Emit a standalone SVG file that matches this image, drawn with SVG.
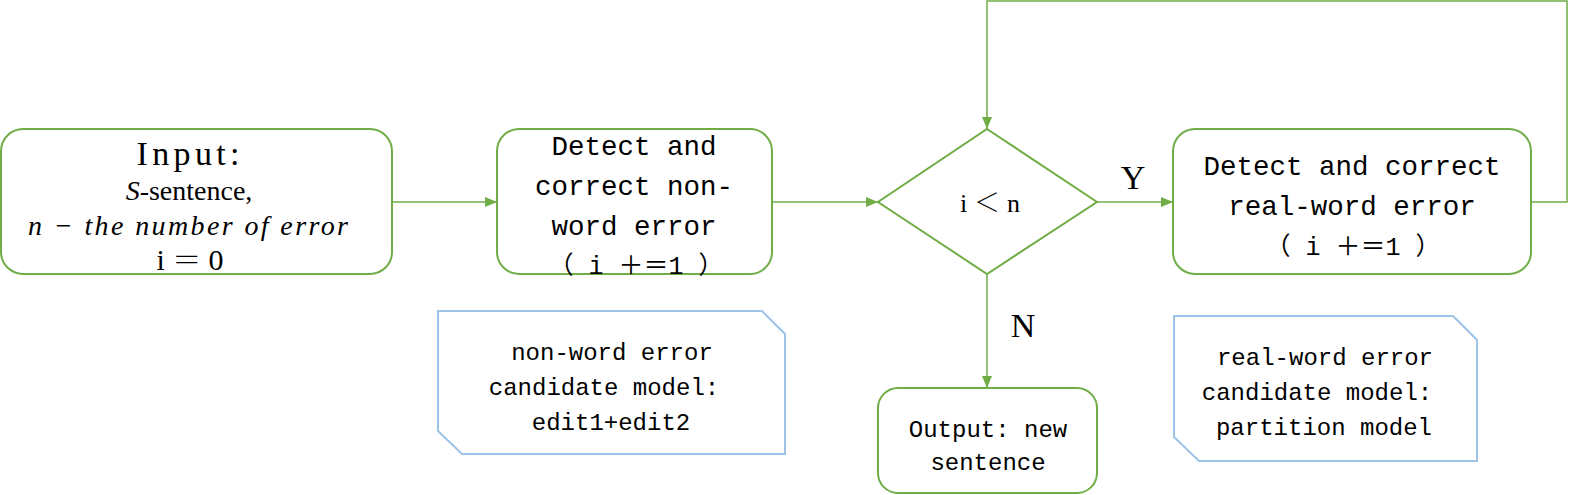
<svg xmlns="http://www.w3.org/2000/svg" width="1572" height="495" viewBox="0 0 1572 495">
<style>
.box{fill:#fff;stroke:#70AD47;stroke-width:2}
.note{fill:#fff;stroke:#9DC3E6;stroke-width:2}
.con{fill:none;stroke:#70AD47;stroke-width:1.5}
.mono{font-family:"Liberation Mono","Noto Sans CJK SC",monospace;fill:#000;text-anchor:middle}
.ser{font-family:"Liberation Serif","Noto Serif CJK SC",serif;fill:#000;text-anchor:middle}
</style>
<defs>
<marker id="arr" viewBox="0 0 12 10" refX="12" refY="5" markerWidth="12" markerHeight="10" markerUnits="userSpaceOnUse" orient="auto">
<path d="M0,0 L12,5 L0,10 Z" fill="#70AD47"/>
</marker>
</defs>
<g id="connectors">
<line class="con" x1="392" y1="202" x2="497" y2="202" marker-end="url(#arr)"/>
<line class="con" x1="772" y1="202" x2="878" y2="202" marker-end="url(#arr)"/>
<line class="con" x1="1097" y1="202" x2="1173" y2="202" marker-end="url(#arr)"/>
<line class="con" x1="987" y1="274" x2="987" y2="388" marker-end="url(#arr)"/>
<polyline class="con" points="1531,202 1567,202 1567,1 987,1 987,129" stroke="#8CC26A" marker-end="url(#arr)"/>
<text class="ser" x="1133" y="189" font-size="34">Y</text>
<text class="ser" x="1023" y="337" font-size="34">N</text>
</g>
<g id="input">
<rect class="box" x="1" y="129" width="391" height="145" rx="22"/>
<text class="ser" x="188" y="165" font-size="34" textLength="103" lengthAdjust="spacing">Input:</text>
<text class="ser" x="189" y="200" font-size="28"><tspan font-style="italic">S</tspan>-sentence,</text>
<text class="ser" x="188" y="235" font-size="28" font-style="italic" textLength="320" lengthAdjust="spacing">n − the number of error</text>
<text class="ser" x="190" y="270" font-size="30" textLength="67" lengthAdjust="spacing">i ＝ 0</text>
</g>
<g id="detect-nonword">
<rect class="box" x="497" y="129" width="275" height="145" rx="22"/>
<text class="mono" x="634" y="155" font-size="27.5">Detect and</text>
<text class="mono" x="634" y="195" font-size="27.5">correct non-</text>
<text class="mono" x="634" y="235" font-size="27.5">word error</text>
<text class="mono" x="636" y="274" font-size="25">（ i ＋＝1 ）</text>
</g>
<g id="decision">
<polygon class="box" points="987,129 1097,202 987,274 878,202"/>
<text class="ser" x="990" y="212" font-size="26" textLength="60" lengthAdjust="spacing">i ＜ n</text>
</g>
<g id="detect-realword">
<rect class="box" x="1173" y="129" width="358" height="145" rx="22"/>
<text class="mono" x="1352" y="175" font-size="27.5">Detect and correct</text>
<text class="mono" x="1352" y="215" font-size="27.5">real-word error</text>
<text class="mono" x="1353" y="255" font-size="25">（ i ＋＝1 ）</text>
</g>
<g id="output">
<rect class="box" x="878" y="388" width="219" height="105" rx="20"/>
<text class="mono" x="988" y="437" font-size="24">Output: new</text>
<text class="mono" x="988" y="470" font-size="24">sentence</text>
</g>
<g id="note-nonword">
<polygon class="note" points="438,311 762,311 785,334 785,454 462,454 438,431"/>
<text class="mono" x="612" y="360" font-size="24">non-word error</text>
<text class="mono" x="604" y="395" font-size="24">candidate model:</text>
<text class="mono" x="611" y="430" font-size="24">edit1+edit2</text>
</g>
<g id="note-realword">
<polygon class="note" points="1174,316 1453,316 1477,340 1477,461 1199,461 1174,437"/>
<text class="mono" x="1325" y="365" font-size="24">real-word error</text>
<text class="mono" x="1317" y="400" font-size="24">candidate model:</text>
<text class="mono" x="1324" y="435" font-size="24">partition model</text>
</g>
</svg>
